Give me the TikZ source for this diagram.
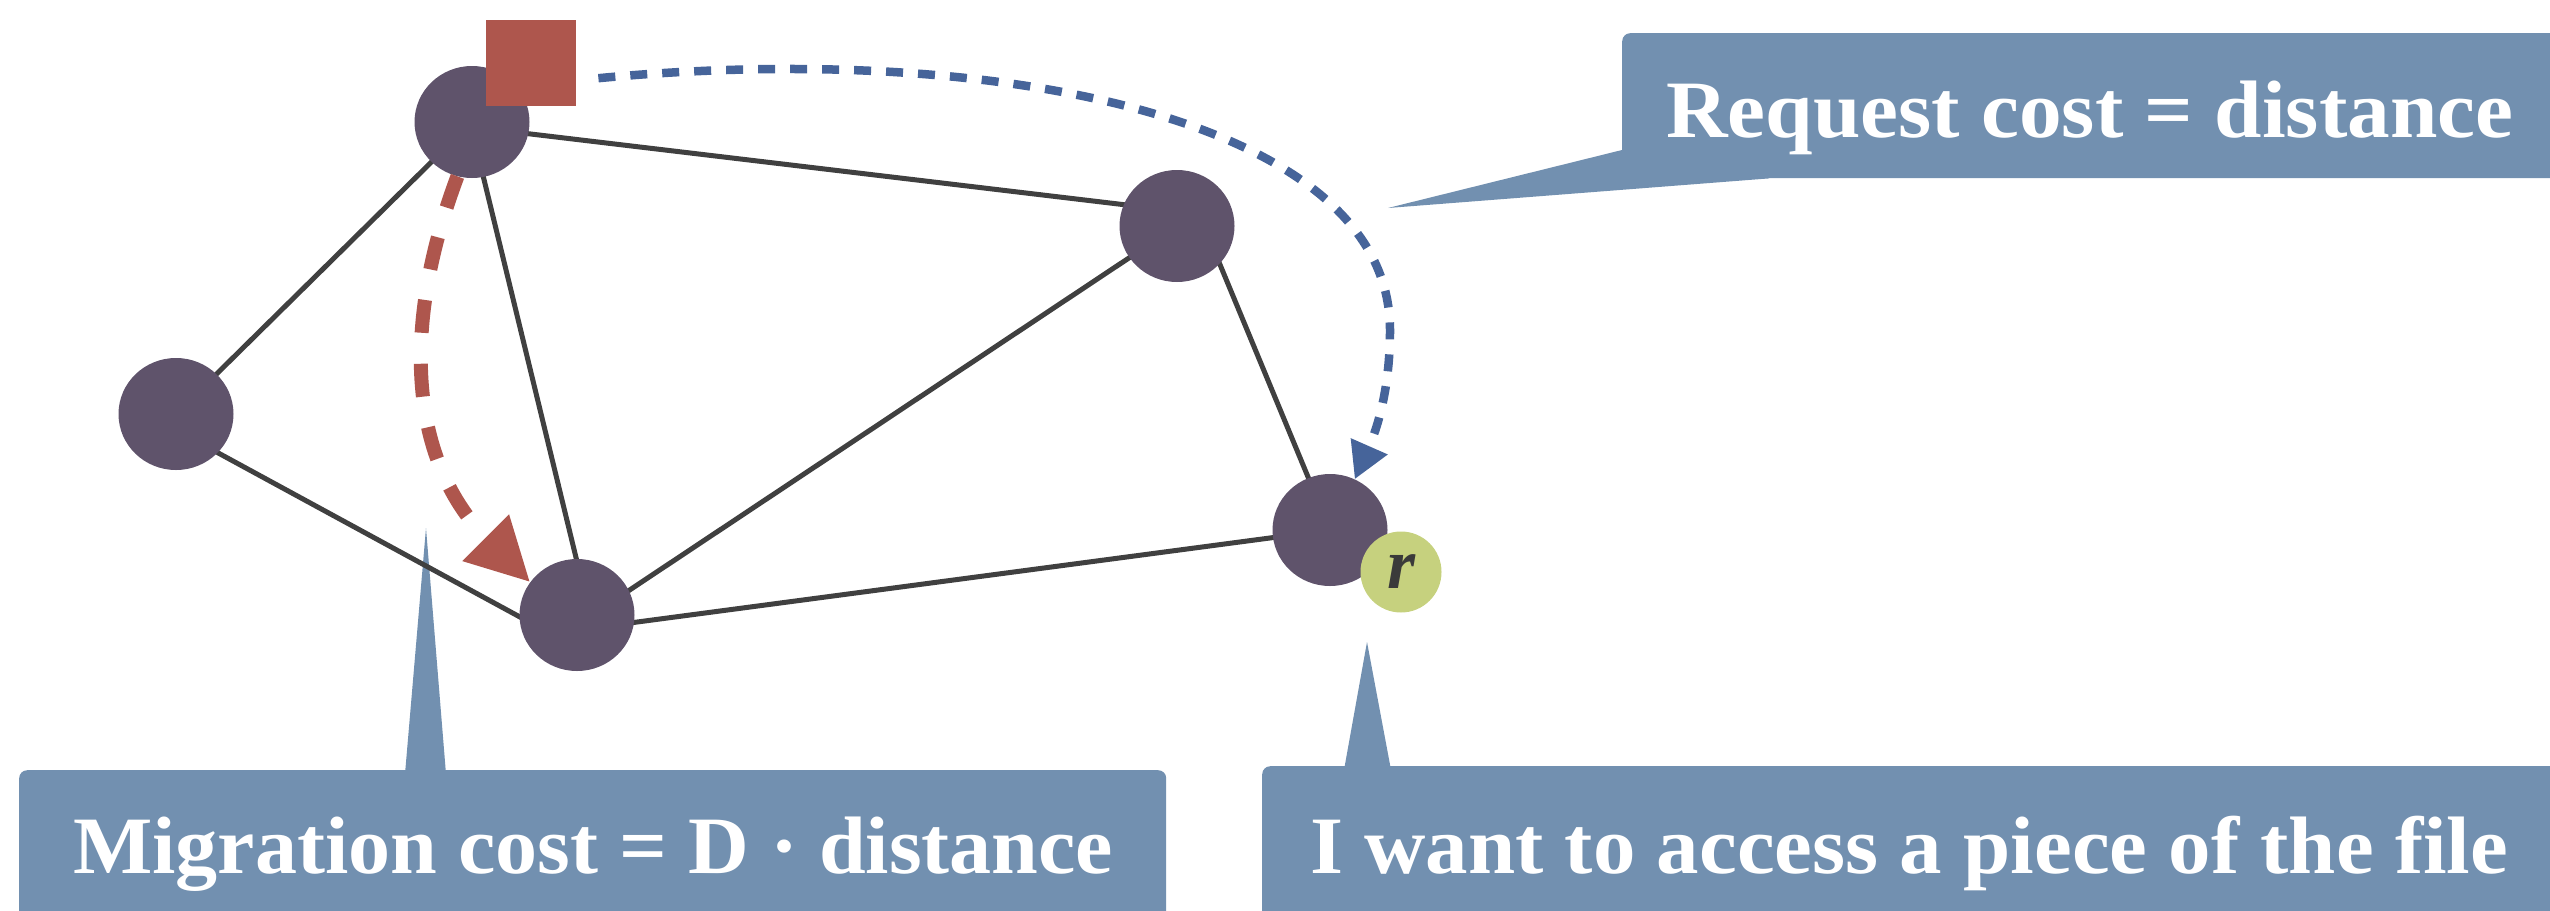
\documentclass[tikz,border=0pt]{standalone}
\usepackage{fontspec}
\setmainfont{Liberation Serif}
\usetikzlibrary{shapes.geometric,arrows.meta}
\definecolor{nodefill}{HTML}{5F536B}
\definecolor{edgecol}{HTML}{404040}
\definecolor{redc}{HTML}{AE564D}
\definecolor{bluec}{HTML}{46649A}
\definecolor{callc}{HTML}{7290B0}
\definecolor{greenc}{HTML}{C6D17E}
\definecolor{rtext}{HTML}{3A3A3A}
\pgfdeclarelayer{back}
\pgfdeclarelayer{edges}
\pgfsetlayers{back,edges,main}
\begin{document}
\begin{tikzpicture}[x=1pt,y=-1pt,
  netnode/.style={ellipse, fill=nodefill, minimum width=115pt, minimum height=112pt, inner sep=0pt},
  edge/.style={draw=edgecol, line width=5pt},
  callbox/.style={fill=callc, rounded corners=8pt, inner sep=0pt, anchor=north west},
  calltext/.style={text=white, inner sep=0pt, anchor=base west, font=\fontsize{81.5pt}{90pt}\selectfont\bfseries}]
\clip (0,0) rectangle (2550,910);

% callouts
\begin{pgfonlayer}{back}
\node[callbox, minimum width=938pt, minimum height=145pt] (rq) at (1622,33) {};
\coordinate (rqtip) at (1388,208);
\fill[callc] ([shift={(0,117)}]rq.north west) -- (rqtip) -- ([shift={(147,0)}]rq.south west) -- ([shift={(147,-10)}]rq.south west) -- cycle;
\node[calltext] (rqt) at (1666,137) {\resizebox{847pt}{\height}{Request cost = distance}};

\node[callbox, minimum width=1147pt, minimum height=170pt] (mg) at (19,770) {};
\coordinate (mgtip) at (426,528);
\fill[callc] ([shift={(386,4)}]mg.north west) -- (mgtip) -- ([shift={(427,4)}]mg.north west) -- cycle;
\node[calltext] (mgt) at (73,873) {\resizebox{1040pt}{\height}{Migration cost = D · distance}};

\node[callbox, minimum width=1300pt, minimum height=170pt] (ac) at (1262,766) {};
\coordinate (actip) at (1367,642);
\fill[callc] ([shift={(82,4)}]ac.north west) -- (actip) -- ([shift={(129,4)}]ac.north west) -- cycle;
\node[calltext] (act) at (1310,873) {\resizebox{1198pt}{\height}{I want to access a piece of the file}};
\end{pgfonlayer}

% network nodes
\node[netnode] (A) at (472,122) {};
\node[netnode] (B) at (176,414) {};
\node[netnode] (C) at (577,615) {};
\node[netnode] (D) at (1177,226) {};
\node[netnode] (E) at (1330,530) {};
\node[fill=redc, minimum width=90pt, minimum height=86pt, inner sep=0pt, anchor=north west] (sq) at (486,20) {};
\node[circle, fill=greenc, minimum size=81pt, inner sep=0pt, text=rtext, font=\fontsize{72pt}{76pt}\selectfont\bfseries\itshape] (r) at (1401,572) {r};

% edges
\begin{pgfonlayer}{edges}
\draw[edge] (A.center) -- (B.center);
\draw[edge] ([shift={(0,5)}]A.center) -- ([shift={(0,-15)}]D.center);
\draw[edge] ([shift={(-2,0)}]A.center) -- ([shift={(13,0)}]C.center);
\draw[edge] ([shift={(0,16)}]B.center) -- ([shift={(0,33)}]C.center);
\draw[edge] ([shift={(0,10)}]C.center) -- (D.center);
\draw[edge] ([shift={(0,15)}]C.center) -- (E.center);
\draw[edge] ([shift={(27,0)}]D.center) -- (E.center);
\end{pgfonlayer}

% migration (red) and request (blue)
\draw[redc, line width=14pt, dash pattern=on 33pt off 31pt, -{Triangle[length=63pt,width=62pt]}]
  (A.255) .. controls (400,330) and (410,462) .. (C.145);
\draw[bluec, line width=8.5pt, dash pattern=on 17pt off 15pt, -{Triangle[length=36pt,width=38pt]}]
  ([shift={(22,15)}]sq.east) .. controls (1000,40) and (1390,120) .. (1390,330)
  .. controls (1390,400) and (1372,440) .. (E.64);
\end{tikzpicture}
\end{document}
